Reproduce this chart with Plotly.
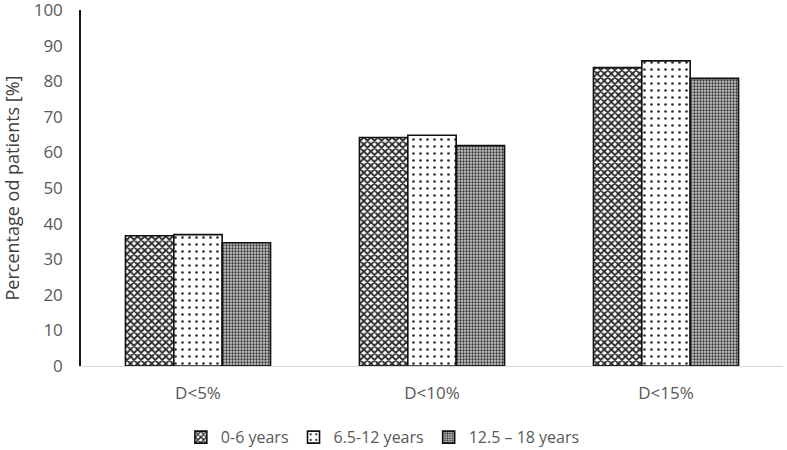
import plotly.graph_objects as go

categories = ["D<5%", "D<10%", "D<15%"]
series_names = ["0-6 years", "6.5-12 years", "12.5 – 18 years"]
vals_0_6 = [36.6, 64.2, 83.8]
vals_6_12 = [36.9, 64.8, 85.7]
vals_12_18 = [34.6, 61.9, 80.8]

patterns = [
    dict(shape="x", fgcolor="#2b2b2b", bgcolor="white", size=5, solidity=0.6, fillmode="replace"),
    dict(shape=".", fgcolor="#333333", bgcolor="white", size=7, solidity=0.12, fillmode="replace"),
    dict(shape=".", fgcolor="#333333", bgcolor="#c8c8c8", size=3, solidity=0.45, fillmode="replace"),
]

fig = go.Figure()
for name, vals, pat in zip(series_names, [vals_0_6, vals_6_12, vals_12_18], patterns):
    fig.add_trace(go.Bar(
        x=categories, y=vals, name=name,
        marker=dict(color="white", pattern=pat, line=dict(color="#111111", width=1.6)),
    ))

font_family = "Open Sans, Liberation Sans, sans-serif"
fig.update_layout(
    width=787, height=450,
    margin=dict(l=81, r=4, t=10, b=84, autoexpand=False),
    plot_bgcolor="white", paper_bgcolor="white",
    barmode="group", bargap=0.38, bargroupgap=0,
    font=dict(family=font_family, size=16, color="#595959"),
    showlegend=True,
    legend=dict(orientation="h", x=0.43, xanchor="center", y=-0.2, yanchor="middle",
                font=dict(size=16, color="#595959"), itemwidth=30, traceorder="normal"),
)
fig.update_xaxes(
    showline=True, linecolor="#d9d9d9", linewidth=1.2, automargin=False,
    showgrid=False, ticks="", ticklabelstandoff=11,
    tickfont=dict(size=17, color="#595959"),
)
fig.update_yaxes(
    range=[0, 100], dtick=10, tick0=0, automargin=False,
    showline=True, linecolor="#1a1a1a", linewidth=1.5, ticklabeloverflow="allow",
    showgrid=False, zeroline=False, ticks="", ticklabelstandoff=13,
    tickfont=dict(size=17, color="#595959"),
    title=dict(text="Percentage od patients [%]", font=dict(size=18, color="#404040"), standoff=12),
)

fig.write_html("out.html", config={"displayModeBar": False},
               post_script="document.body.style.margin='0';")
